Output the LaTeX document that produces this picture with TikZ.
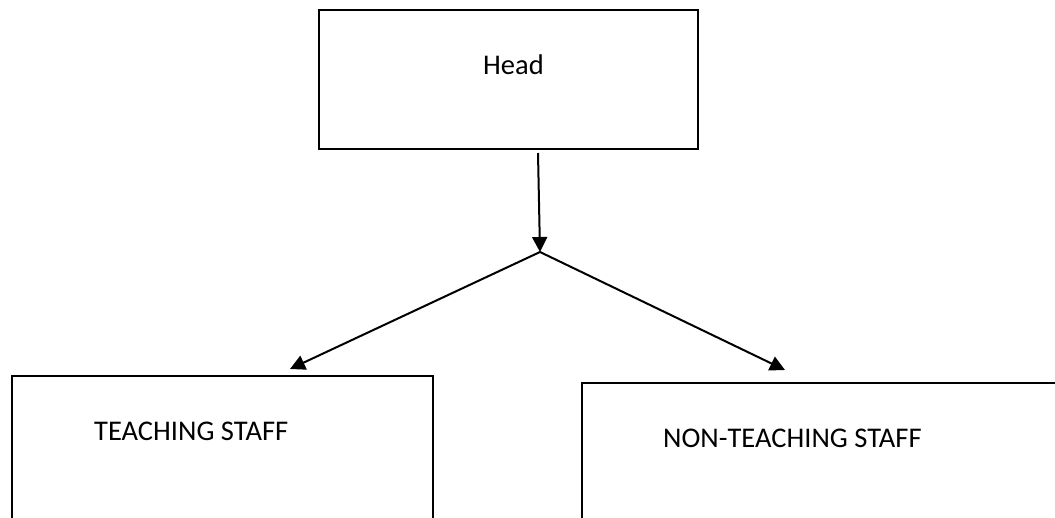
\documentclass[tikz,border=0pt]{standalone}
\usepackage{fontspec}
\setmainfont{Carlito}
\usetikzlibrary{arrows.meta}

\begin{document}
\begin{tikzpicture}[
  x=1pt,y=-1pt,
  box/.style={draw,line width=2pt,inner sep=0pt},
  txt/.style={font=\fontsize{28.5}{34}\selectfont,anchor=base west,inner sep=0pt},
  to/.style={-{Triangle[length=15pt,width=15pt]},line width=2pt}]

  \useasboundingbox (0,0) rectangle (1055,518);
  \clip (0,0) rectangle (1055,518);

  % Position the boxes and their texts at coordinates
  \node[box,minimum width=379pt,minimum height=139pt] (Head) at (508.5,79.5) {};
  \node[txt] (HeadText) at (483,75) {Head};
  \node[box,minimum width=421.5pt,minimum height=200pt] (Teach) at (222.25,476) {};
  \node[txt] (TeachText) at (94,440) {TEACHING STAFF};
  \node[box,minimum width=493pt,minimum height=200pt] (NonTeach) at (828.5,483) {};
  \node[txt] (NonTeachText) at (663,447) {NON-TEACHING STAFF};

  % Junction and the free ends of the arrows
  \coordinate (start) at (538,153);
  \coordinate (split) at (540,252);
  \coordinate (tipTeach) at (290,369);
  \coordinate (tipNonTeach) at (785,370);

  % Draw the arrows
  \draw[to] (start) -- (split);
  \draw[to] (split) -- (tipTeach);
  \draw[to] (split) -- (tipNonTeach);
\end{tikzpicture}
\end{document}
